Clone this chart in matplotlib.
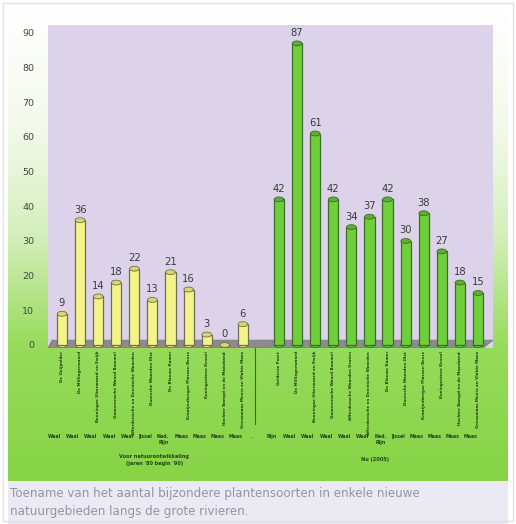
import numpy as np
import matplotlib
matplotlib.use("Agg")
import matplotlib.pyplot as plt
from matplotlib.patches import Polygon, Ellipse, Rectangle
from matplotlib.colors import LinearSegmentedColormap
import matplotlib.transforms as mtransforms

# ---- data ----
before_values = [9, 36, 14, 18, 22, 13, 21, 16, 3, 0, 6]
after_values = [42, 87, 61, 42, 34, 37, 42, 30, 38, 27, 18, 15]

before_areas = ["De Ooijpolder", "De Millingerwaard", "Beuningse Uiterwaard en Ewijk",
                "Gamerensche Waard Bommel", "Afferdensche en Deestsche Waarden",
                "Duursche Waarden Olst", "De Blauwe Kamer", "Kraaijenbergse Plassen Beers",
                "Koningssteen Kessel", "Hochter Bampd en de Maasband",
                "Grensmaas Meers en Vlakte Maas"]
after_areas = ["Gelderse Poort", "De Millingerwaard", "Beuningse Uiterwaard en Ewijk",
               "Gamerensche Waard Bommel", "Afferdensche Waarden Druten",
               "Afferdensche en Deestsche Waarden", "De Blauwe Kamer",
               "Duursche Waarden Olst", "Kraaijenbergse Plassen Beers",
               "Koningssteen Kessel", "Hochter Bampd en de Maasband",
               "Grensmaas Meers en Vlakte Maas"]
before_rivers = ["Waal", "Waal", "Waal", "Waal", "Waal", "IJssel", "Ned.\nRijn",
                 "Maas", "Maas", "Maas", "Maas"]
after_rivers = ["Rijn", "Waal", "Waal", "Waal", "Waal", "Waal", "Ned.\nRijn",
                "IJssel", "Maas", "Maas", "Maas", "Maas"]
before_caption = "Voor natuurontwikkeling\n(jaren '80 begin '90)"
after_caption = "Nu (2005)"
yticks = list(range(0, 100, 10))
caption = ("Toename van het aantal bijzondere plantensoorten in enkele nieuwe\n"
           "natuurgebieden langs de grote rivieren.")

W, H = 516, 524
fig = plt.figure(figsize=(W / 100, H / 100), dpi=100)
fig.patch.set_facecolor("white")

# ---- panel background with vertical white-to-green gradient ----
bg = fig.add_axes([0, 0, 1, 1], zorder=-5)
bg.set_xlim(0, W)
bg.set_ylim(H, 0)
bg.axis("off")
stops = [(0.0, "#ffffff"), (0.25, "#f3faec"), (0.48, "#d4efbb"),
         (0.72, "#96db5a"), (1.0, "#86d446")]
cmap = LinearSegmentedColormap.from_list("panel", stops)
grad = np.linspace(0, 1, 256).reshape(-1, 1)
bg.imshow(grad, cmap=cmap, aspect="auto", extent=(8, 508, 481, 8), zorder=0)
bg.add_patch(Rectangle((8, 481), 500, 43, facecolor="#ebe9f1", edgecolor="none", zorder=1))
bg.add_patch(Rectangle((3, 3), 510, 518, facecolor="none", edgecolor="#e2e2e6", lw=1, zorder=2))
bg.text(10, 487, caption, fontsize=8.6, color="#9094ac", va="top", ha="left",
        linespacing=1.45, zorder=3)

# ---- main plot area ----
ax_left, ax_right, ax_top, ax_bot = 48, 493, 25, 348
ax = fig.add_axes([ax_left / W, 1 - ax_bot / H, (ax_right - ax_left) / W, (ax_bot - ax_top) / H])
ax.set_facecolor("#dcd3ea")
for s in ax.spines.values():
    s.set_visible(False)
ax.set_ylim(-0.87, 92.3)
ax.set_xlim(-0.774, 23.83)

x_before = np.arange(len(before_values))
x_after = np.arange(len(after_values)) + len(before_values) + 1

# floor slab
floor = Polygon([(-0.774, -0.87), (23.3, -0.87), (23.83, 1.4), (-0.55, 1.4)],
                closed=True, facecolor="#8c8c8e", edgecolor="#777", lw=0.5, zorder=1)
ax.add_patch(floor)

bw = 0.56


def draw_bars(xs, vals, face, edge, cap):
    ax.bar(xs, vals, width=bw, bottom=0, color=face, edgecolor=edge, lw=0.9, zorder=3)
    for x, v in zip(xs, vals):
        ax.add_patch(Ellipse((x, v), bw * 0.95, 1.4, facecolor=cap, edgecolor=edge,
                             lw=0.6, zorder=4))
        ax.add_patch(Ellipse((x, 0), bw * 0.95, 1.4, facecolor=face, edgecolor=edge,
                             lw=0.6, zorder=2))
        ax.text(x, v + 1.6, str(v), ha="center", va="bottom", fontsize=7.2,
                color="#3a3a3a", zorder=5)


draw_bars(x_before, before_values, "#f3f38a", "#6e6e55", "#d8d870")
draw_bars(x_after, after_values, "#6fcf3b", "#3c6e28", "#5cb02e")

ax.set_yticks(yticks)
ax.set_yticklabels([str(t) for t in yticks], fontsize=6.8, color="#444444")
ax.tick_params(axis="y", length=0, pad=10)
ax.set_xticks([])

# labels below the floor
px = (ax_bot - ax_top)


def ay(py):
    return -(py - ax_bot) / px


trans = mtransforms.blended_transform_factory(ax.transData, ax.transAxes)
row_shift = -0.4
for xs, names, rivers in ((x_before, before_areas, before_rivers),
                          (x_after, after_areas, after_rivers)):
    for x, n, r in zip(xs, names, rivers):
        ax.text(x, ay(351), n, rotation=90, ha="center", va="top", fontsize=2.85,
                fontweight="bold", color="#1f3f16", transform=trans, clip_on=False)
        ax.text(x + row_shift, ay(434), r, ha="center", va="top", fontsize=3.4,
                fontweight="bold", color="#23451a", transform=trans, clip_on=False,
                linespacing=1.3)

ax.plot([10.68, 10.68], [ay(348), ay(424)], color="#3a6a25", lw=0.8,
        transform=trans, clip_on=False)
ax.text(10.5, ay(437), "...", ha="center", va="center", fontsize=3.4,
        color="#3a6a25", transform=trans, clip_on=False)
ax.text(5.1, ay(454), before_caption, ha="center", va="top", fontsize=3.6,
        fontweight="bold", color="#23451a", transform=trans, clip_on=False,
        linespacing=1.5)
ax.text(17.3, ay(457), after_caption, ha="center", va="top", fontsize=3.6,
        fontweight="bold", color="#23451a", transform=trans, clip_on=False)

fig.savefig("out.png", dpi=100)
